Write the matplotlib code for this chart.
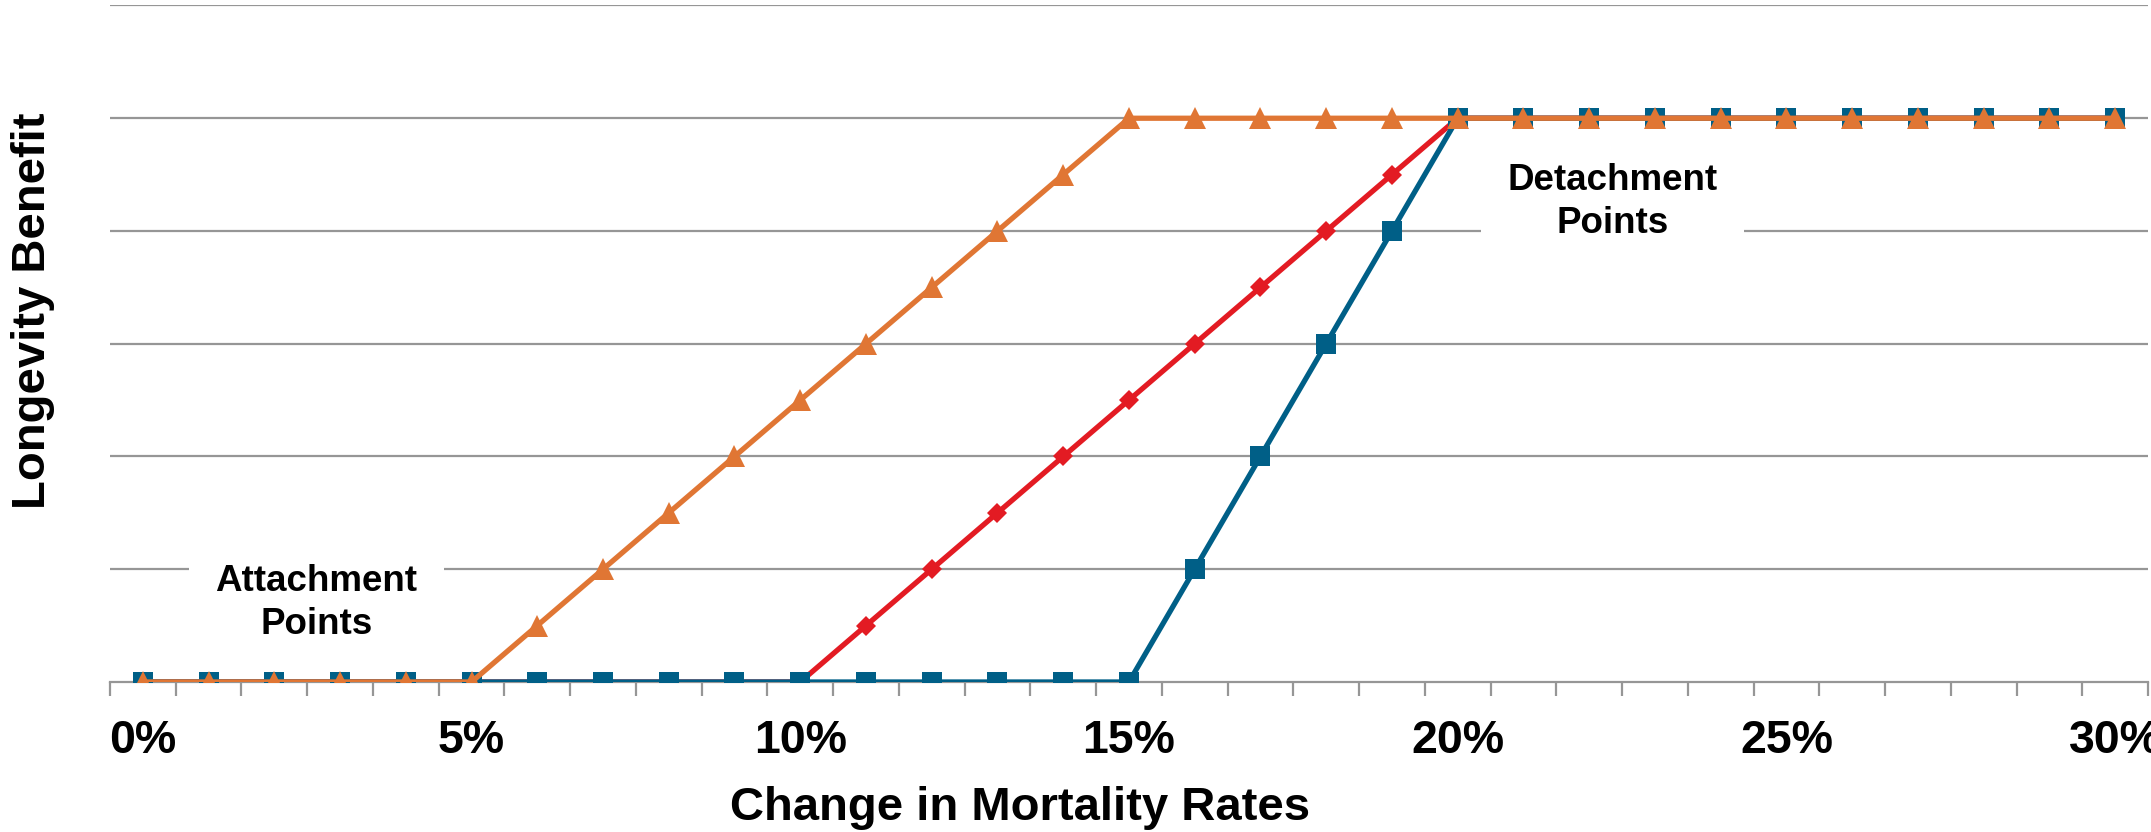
import numpy as np
import matplotlib
matplotlib.use('Agg')
import matplotlib.pyplot as plt

plt.rcParams['font.family'] = ['Liberation Sans', 'DejaVu Sans']

# Change in mortality rates, one category per percent
categories = [f'{i}%' for i in range(31)]
tick_labels = ['0%', '5%', '10%', '15%', '20%', '25%', '30%']

# Longevity benefit for the three layers
red_values = [0, 0, 0, 0, 0, 0, 0, 0, 0, 0, 0,
              0.5, 1, 1.5, 2, 2.5, 3, 3.5, 4, 4.5,
              5, 5, 5, 5, 5, 5, 5, 5, 5, 5, 5]
blue_values = [0, 0, 0, 0, 0, 0, 0, 0, 0, 0, 0, 0, 0, 0, 0, 0,
               1, 2, 3, 4,
               5, 5, 5, 5, 5, 5, 5, 5, 5, 5, 5]
orange_values = [0, 0, 0, 0, 0, 0,
                 0.5, 1, 1.5, 2, 2.5, 3, 3.5, 4, 4.5,
                 5, 5, 5, 5, 5, 5, 5, 5, 5, 5, 5, 5, 5, 5, 5, 5]

RED = '#E31B23'
BLUE = '#005F87'
ORANGE = '#E07634'
GRID = '#969696'

fig = plt.figure(figsize=(21.51, 8.32), dpi=100)
ax = fig.add_axes([0.0511, 0.1803, 0.9475, 0.8131])

x = np.arange(len(categories))
ax.plot(x, red_values, color=RED, lw=3.8, marker='D', ms=10, mew=0, zorder=3)
ax.plot(x, blue_values, color=BLUE, lw=3.8, marker='s', ms=14, mew=0, zorder=4)
ax.plot(x, orange_values, color=ORANGE, lw=3.8, marker='^', ms=15.5, mew=0, zorder=5)

ax.set_xlim(-0.5, len(categories) - 0.5)
ax.set_ylim(0, 6)

# grid + axis styling
ax.set_yticks(np.arange(1, 7))
ax.yaxis.grid(True, color=GRID, lw=1.6, zorder=0)
ax.set_axisbelow(True)
ax.tick_params(axis='y', left=False, labelleft=False)
for side in ['left', 'right', 'top']:
    ax.spines[side].set_visible(False)
ax.spines['bottom'].set_color(GRID)
ax.spines['bottom'].set_linewidth(1.6)

ax.set_xticks(np.arange(-0.5, len(categories), 1), minor=True)
ax.set_xticks(x[::5])
ax.set_xticklabels(tick_labels, fontsize=33.5, fontweight='bold')
ax.tick_params(axis='x', which='major', length=0, pad=27)
ax.tick_params(axis='x', which='minor', length=10, width=1.6, color=GRID)

box = dict(boxstyle='square,pad=0.72', facecolor='white', edgecolor='none')
ax.text(2.64, 0.70, 'Attachment\nPoints', fontsize=26.5, fontweight='bold',
        ha='center', va='center', linespacing=1.3, bbox=box, zorder=2)
ax.text(22.36, 4.26, 'Detachment\nPoints', fontsize=26.5, fontweight='bold',
        ha='center', va='center', linespacing=1.3, bbox=box, zorder=2)

fig.text(0.474, 0.014, 'Change in Mortality Rates', fontsize=34, fontweight='bold',
         ha='center', va='baseline')
fig.text(0.0152, 0.626, 'Longevity Benefit', fontsize=34, fontweight='bold',
         ha='center', va='center', rotation=90)

fig.savefig('out.png', dpi=100)
